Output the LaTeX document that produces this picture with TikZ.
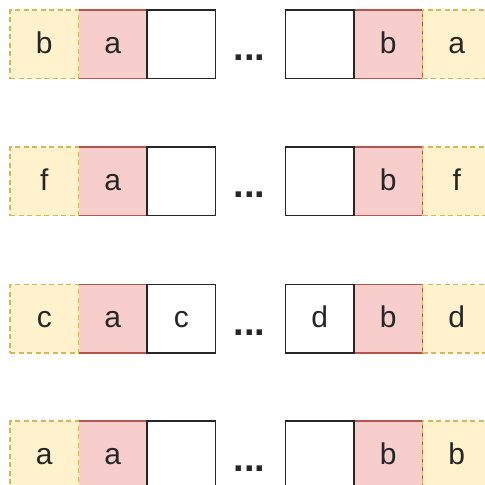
\documentclass[tikz,border=0pt]{standalone}
\usepackage{fontspec}
\setmainfont{Liberation Sans}
\usepackage{tikz}

\definecolor{padfill}{HTML}{FFF2CC}
\definecolor{paddraw}{HTML}{D6B656}
\definecolor{endfill}{HTML}{F8CECC}
\definecolor{enddraw}{HTML}{B85450}

\tikzset{
  box/.style={minimum size=68.5pt, inner sep=0pt, outer sep=0pt, text=black!85,
    text height=18pt, text depth=0pt, font=\fontsize{30}{36}\selectfont},
  pad/.style={box, fill=padfill, draw=paddraw, line width=1.5pt, dash pattern=on 5pt off 3.5pt},
  endbox/.style={box, fill=endfill, draw=enddraw, line width=1.6pt},
  cell/.style={box, fill=white, draw=black!85, line width=1.7pt},
  dots/.style={anchor=base, inner sep=0pt, text=black!85, font=\fontsize{38}{46}\selectfont\bfseries}
}

\begin{document}
\begin{tikzpicture}[x=1pt, y=-1pt]
\useasboundingbox (0,0) rectangle (485,485);
\clip (0,0) rectangle (485,485);

\node[endbox] (ra1) at (112.75,44.25) {a};
\node[endbox] (rb1) at (388.25,44.25) {b};
\node[cell] (c1) at (181.25,44.25) {};
\node[cell] (d1) at (319.75,44.25) {};
\node[pad] (pl1) at (44.25,44.25) {b};
\node[pad] (pr1) at (456.75,44.25) {a};
\node[dots] (g1) at (249.5,60.5) {...};

\node[endbox] (ra2) at (112.75,181.25) {a};
\node[endbox] (rb2) at (388.25,181.25) {b};
\node[cell] (c2) at (181.25,181.25) {};
\node[cell] (d2) at (319.75,181.25) {};
\node[pad] (pl2) at (44.25,181.25) {f};
\node[pad] (pr2) at (456.75,181.25) {f};
\node[dots] (g2) at (249.5,197.5) {...};

\node[endbox] (ra3) at (112.75,318.75) {a};
\node[endbox] (rb3) at (388.25,318.75) {b};
\node[cell] (c3) at (181.25,318.75) {c};
\node[cell] (d3) at (319.75,318.75) {d};
\node[pad] (pl3) at (44.25,318.75) {c};
\node[pad] (pr3) at (456.75,318.75) {d};
\node[dots] (g3) at (249.5,335) {...};

\node[endbox] (ra4) at (112.75,455.25) {a};
\node[endbox] (rb4) at (388.25,455.25) {b};
\node[cell] (c4) at (181.25,455.25) {};
\node[cell] (d4) at (319.75,455.25) {};
\node[pad] (pl4) at (44.25,455.25) {a};
\node[pad] (pr4) at (456.75,455.25) {b};
\node[dots] (g4) at (249.5,471.5) {...};
\end{tikzpicture}
\end{document}
